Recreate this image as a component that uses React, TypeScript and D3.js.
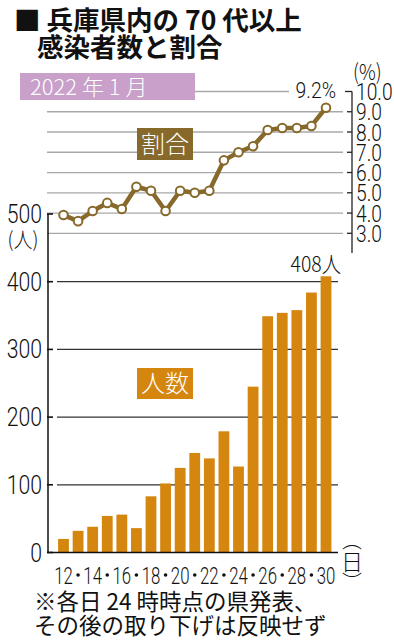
import React from "react";
import * as d3 from "d3";

const days = [12, 13, 14, 15, 16, 17, 18, 19, 20, 21, 22, 23, 24, 25, 26, 27, 28, 29, 30];
const counts = [20, 32, 38, 54, 56, 36, 83, 102, 125, 147, 139, 179, 127, 245, 349, 354, 358, 384, 408];
const ratios = [3.9, 3.6, 4.1, 4.5, 4.2, 5.3, 5.1, 4.1, 5.1, 5.0, 5.1, 6.6, 7.0, 7.3, 8.1, 8.2, 8.2, 8.3, 9.2];
const countTicks = [0, 100, 200, 300, 400, 500];
const ratioTicks = [3, 4, 5, 6, 7, 8, 9, 10];
const xLabelDays = [12, 14, 16, 18, 20, 22, 24, 26, 28, 30];

const JP = "'Noto Sans CJK JP', 'Noto Sans', sans-serif";
const NUM = "Roboto, 'Noto Sans', sans-serif";
const BAR = "#d4860f";
const LINE = "#86692b";

function CText({ x, y, sx = 0.82, size, anchor = "start", fill = "#111", family = NUM, weight = 300, children }: any) {
  return (
    <text
      transform={`translate(${x},${y}) scale(${sx},1)`}
      fontSize={size}
      fontFamily={family}
      fontWeight={weight}
      textAnchor={anchor}
      fill={fill}
    >
      {children}
    </text>
  );
}

export default function App() {
  const x = d3.scaleLinear().domain([12, 30]).range([63.5, 326]);
  const yB = d3.scaleLinear().domain([0, 500]).range([552.5, 214]);
  const yP = d3.scaleLinear().domain([3, 10]).range([233.3, 91.5]);
  const bw = 10.8;
  const line = d3
    .line<number>()
    .x((_, i) => x(days[i]))
    .y((d) => yP(d));

  return (
    <svg width={394} height={640} style={{ position: "absolute", left: 0, top: 0, background: "#fff" }}>
      <rect x={0} y={0} width={394} height={640} fill="#fff" />
      {/* Title */}
      <text x={14} y={30} fontSize={26.5} fontFamily={JP} fontWeight={700} fill="#111">
        ■ 兵庫県内の 70 代以上
      </text>
      <text x={37} y={57} fontSize={26.5} fontFamily={JP} fontWeight={700} fill="#111">
        感染者数と割合
      </text>

      {/* Percent grid */}
      {ratioTicks.map((t) => (
        <line
          key={"pg" + t}
          x1={t === 10 ? 195 : 47}
          x2={t === 10 ? 289 : 343}
          y1={yP(t)}
          y2={yP(t)}
          stroke="#a8a8a8"
          strokeWidth={1.3}
        />
      ))}
      {/* Right axis */}
      <line x1={352} x2={352} y1={yP(10)} y2={253} stroke="#222" strokeWidth={1.3} />
      {ratioTicks.map((t) => (
        <g key={"pt" + t}>
          <line x1={t === 10 ? 345 : 347} x2={352} y1={yP(t)} y2={yP(t)} stroke="#222" strokeWidth={1.3} />
          <CText x={356} y={yP(t) + 8.5} size={24} sx={0.8}>
            {t.toFixed(1)}
          </CText>
        </g>
      ))}
      <CText x={353} y={80} size={22} sx={0.85} family={JP}>
        (%)
      </CText>

      {/* Date label box */}
      <rect x={20} y={73} width={175} height={27} fill="#c9a0ca" />
      <text x={30} y={95} fontSize={22} fontFamily={JP} fontWeight={300} fill="#fff">
        2022 年 1 月
      </text>

      {/* Bar grid */}
      {countTicks.map((t) => (
        <g key={"bg" + t}>
          {t > 0 && t < 500 && (
            <line x1={57} x2={338} y1={yB(t)} y2={yB(t)} stroke="#333" strokeWidth={1.3} />
          )}
          <line x1={47} x2={53} y1={yB(t)} y2={yB(t)} stroke="#111" strokeWidth={1.6} />
          <CText x={42} y={yB(t) + 9} size={25} sx={0.85} anchor="end">
            {t}
          </CText>
        </g>
      ))}
      <CText x={23} y={247} size={21} sx={0.9} family={JP} anchor="middle">
        (人)
      </CText>
      <line x1={48} x2={48} y1={yB(500)} y2={yB(0)} stroke="#111" strokeWidth={1.5} />

      {/* Bars */}
      {counts.map((c, i) => (
        <rect
          key={"b" + i}
          x={x(days[i]) - bw / 2}
          y={yB(c)}
          width={bw}
          height={yB(0) - yB(c)}
          fill={BAR}
        />
      ))}
      <line x1={47} x2={338} y1={yB(0)} y2={yB(0)} stroke="#111" strokeWidth={1.5} />

      {/* Percent line */}
      <path d={line(ratios) || ""} fill="none" stroke={LINE} strokeWidth={4.5} strokeLinejoin="round" />
      {ratios.map((r, i) => (
        <circle key={"c" + i} cx={x(days[i])} cy={yP(r)} r={4.3} fill="#fff" stroke={LINE} strokeWidth={2} />
      ))}

      {/* Series labels */}
      <rect x={137} y={128} width={56} height={32} fill={LINE} />
      <text x={165} y={153} fontSize={24} fontFamily={JP} fontWeight={300} fill="#fff" textAnchor="middle">
        割合
      </text>
      <rect x={137} y={368} width={56} height={31} fill={BAR} />
      <text x={165} y={392} fontSize={24} fontFamily={JP} fontWeight={300} fill="#fff" textAnchor="middle">
        人数
      </text>

      {/* Value labels */}
      <CText x={336} y={98} size={22} sx={0.88} anchor="end">
        9.2%
      </CText>
      <CText x={341} y={272} size={22} sx={0.88} anchor="end" family={JP}>
        408人
      </CText>

      {/* X labels */}
      {days.map((d) =>
        xLabelDays.includes(d) ? (
          <CText key={"xl" + d} x={x(d)} y={584} size={24} sx={0.7} anchor="middle">
            {d}
          </CText>
        ) : (
          <circle key={"xd" + d} cx={x(d)} cy={575} r={1.8} fill="#111" />
        )
      )}
      <text x={352} y={548} fontSize={20} fontFamily={JP} fontWeight={300} textAnchor="middle" fill="#111">︵</text>
      <text x={352} y={570} fontSize={22} fontFamily={JP} fontWeight={300} textAnchor="middle" fill="#111">日</text>
      <text x={352} y={590} fontSize={20} fontFamily={JP} fontWeight={300} textAnchor="middle" fill="#111">︶</text>

      {/* Footnote */}
      <text x={34} y={610} fontSize={22.5} fontFamily={JP} fill="#111">
        ※各日 24 時時点の県発表、
      </text>
      <text x={34} y={634} fontSize={22.5} fontFamily={JP} fill="#111">
        その後の取り下げは反映せず
      </text>
    </svg>
  );
}
